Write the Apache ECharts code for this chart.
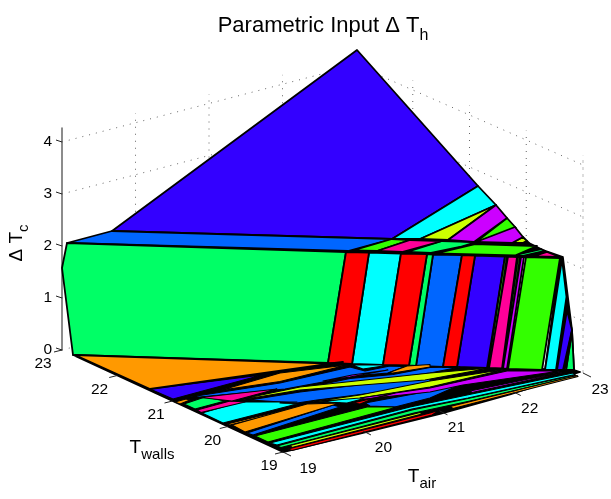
<!DOCTYPE html>
<html>
<head>
<meta charset="utf-8">
<style>html,body{margin:0;padding:0;background:#fff}#c{width:611px;height:499px}</style>
<script src="https://cdn.jsdelivr.net/npm/echarts@6/dist/echarts.min.js"></script>
</head>
<body>
<div id="c"></div>
<script>
// Tick values of the three axes
const zTicks = [0, 1, 2, 3, 4];
const airTicks = [19, 20, 21, 22, 23];
const wallTicks = [19, 20, 21, 22, 23];
const zAxisMax = 4.27;
const gridTop = 4.18;

// Surface facets, in the view-plane units of the hidden axes
const indigoFacets = [
  [[357,50],[478,186],[392,239],[112,231]],
  [[475,255.5],[505,256.5],[487,368],[457,367]],
  [[567,310],[572,330],[563,370],[557,370]],
  [[150,389],[262,375],[173,399]]
];
const cyanFacets = [
  [[478,186],[496,205],[420,239],[392,239]],
  [[369,252.5],[401,253.5],[383,365],[352,364]],
  [[562,259],[566.5,297],[556,370],[545,370]],
  [[352,365],[390,365],[363,369]],
  [[202,413],[223,423],[297,404],[280,403],[297,402],[240,402]],
  [[323,402],[353,397],[370,397],[347,403]],
  [[270,443],[410,407],[467,395],[573,373],[575,374.5],[468,398],[412,409],[277,445]]
];
const yellowFacets = [
  [[496,205],[420,239],[448,240]],
  [[523,237],[527,241],[523,243],[512,243]],
  [[237,400],[300,387],[430,373],[490,368],[425,380],[300,390],[243,399.5]],
  [[312,402],[360,395],[430,381],[507,369],[430,387],[360,398]],
  [[572,331],[566,370],[564,370]],
  [[290,445.5],[420,412.5],[422,414],[292,447.5]]
];
const purpleFacets = [
  [[496,205],[507,218],[474,242],[448,240]],
  [[515,227],[523,237],[512,243],[476,242]],
  [[521,257],[524,257],[507,369],[503,368.5]],
  [[323,381],[352,375],[388,370],[350,377]],
  [[360,398],[430,388],[507,371],[560,371],[463,385],[430,392],[365,399]],
  [[470,391],[560,372.5],[562,373],[472,392.5]]
];
const greenFacets = [
  [[507,218],[516,228],[476,242]],
  [[353,250.5],[392,239],[410,240],[377,251]],
  [[435,253.5],[475,244],[537,246],[515,255.5]],
  [[526,257],[560,258],[542,370],[508,369]],
  [[505,256.5],[507,256.5],[491,368],[488,368]],
  [[518,257],[520,257],[505,368.5],[503,368.5]],
  [[255,436],[367,407],[397,407],[268,442]]
];
const redFacets = [
  [[523,243],[527,241],[529,243]],
  [[346,252],[369,252.5],[352,364],[328,363]],
  [[401,253.5],[427,254],[409,365.5],[383,365]],
  [[462,255],[475,255.5],[457,367],[443,367]],
  [[353,403],[395,393],[370,400],[360,404]],
  [[288,449],[430,413],[440,410],[432,415],[292,450.5]]
];
const blueFacets = [
  [[67,243],[112,231],[392,239],[348,251]],
  [[433,254.5],[462,255],[443,367],[416,366]],
  [[190,397],[280,383],[350,367],[365,371],[390,366],[405,366.5],[388,373],[352,376],[323,382],[285,389],[200,397]],
  [[290,391],[350,378.5],[393,374.5],[430,367.5],[460,367],[430,373],[290,392]],
  [[250,400],[300,392],[430,376.5],[430,385],[380,392],[317,400],[297,403]],
  [[365,403],[430,391],[457,382],[462,384],[430,398],[395,407],[370,406]],
  [[247,433],[253,435],[340,407],[333,405]]
];
const springFacets = [
  [[67,243],[346,252],[328,363],[73,355],[62,268]],
  [[427,254],[433,254.5],[416,366],[409,365.5]],
  [[407,252],[442,241],[476,242],[460,247],[431,253]],
  [[515,255],[541,249],[545,251],[523,256]],
  [[572,331],[574,370],[566,370]],
  [[184,404],[195,409],[225,401],[205,397]],
  [[277,446],[412,410],[468,398.5],[575,375],[576,376],[470,401],[414,413],[281,447.5]]
];
const magentaFacets = [
  [[377,251],[410,240],[442,241],[402,252]],
  [[508,256.5],[517,257],[502,368.5],[489,368]],
  [[533,256.5],[547,252],[560,257]],
  [[197,410],[201,412.5],[245,402],[230,401]],
  [[200,397.5],[277,389],[232,401]]
];
const orangeFacets = [
  [[75,355],[330,363.5],[343,362],[150,389]],
  [[222,390],[280,373],[347,365],[280,381.5]],
  [[388,373],[407,366],[430,364.5],[430,367],[393,373]],
  [[175,402],[186,399],[190,400],[180,404]],
  [[227,424],[297,407],[299,408],[230,425]],
  [[232,425],[245,432],[340,403],[307,404]],
  [[450,406.5],[577,375.5],[578,376.5],[453,408.5]]
];
// Black backing behind the tightly packed ridge, side and floor strips
const backingFacets = [
  [[73,355],[574,370],[580,372],[510,394.5],[440,414],[363,433],[283,452]],
  [[392,239],[448,240],[529,243],[543,250],[563,257],[560,258],[346,252]],
  [[563,258],[572,330],[574,370],[545,370],[560,258]]
];

const layers = [
  ['#000000', backingFacets], ['#3300FF', indigoFacets], ['#0066FF', blueFacets],
  ['#00FF66', springFacets], ['#33FF00', greenFacets], ['#00FFFF', cyanFacets],
  ['#CCFF00', yellowFacets], ['#CC00FF', purpleFacets], ['#FF0000', redFacets],
  ['#FF0099', magentaFacets], ['#FF9900', orangeFacets]
];
const facets = [];
layers.forEach(function (l) { l[1].forEach(function (p) { facets.push({ color: l[0], pts: p }); }); });

function lerp(p, q, t) { return p + (q - p) * t; }
function project(a, w, z) {
  const t = (a - 19) / 4, s = (w - 19) / 4, k = 1.09 - 0.0225 * (w - 19);
  const t2 = t * k / (1 + (k - 1) * t);
  return [
    lerp(lerp(283, 583, t2), lerp(62, 356, t2), s),
    lerp(lerp(452, 373, t2), lerp(350, 273, t2), s) - z * 52
  ];
}

const gridLines = [];
zTicks.forEach(function (z) {
  gridLines.push([project(19, 23, z), project(23, 23, z)]);
  gridLines.push([project(23, 23, z), project(23, 19, z)]);
});
airTicks.forEach(function (a) {
  if (a > 19) gridLines.push([project(a, 23, 0), project(a, 23, gridTop)]);
});
wallTicks.forEach(function (w) {
  if (w > 19 && w < 23) gridLines.push([project(23, w, 0), project(23, w, gridTop)]);
});

const tickItems = [];
airTicks.forEach(function (a) {
  const b = project(a, 19, 0);
  tickItems.push({ from: b, to: [b[0] + 8, b[1] + 4], label: String(a),
    at: [b[0] + Math.max(17, 25 - 4.5 * (a - 19)), b[1] + 17] });
});
wallTicks.forEach(function (w) {
  const b = project(19, w, 0);
  tickItems.push({ from: b, to: [b[0] - 8, b[1] + 2], label: String(w),
    at: [b[0] - 14 - (w - 19) * 1.25, b[1] + 14] });
});
zTicks.forEach(function (z) {
  const b = project(19, 23, z);
  tickItems.push({ from: b, to: [b[0] - 6, b[1] - 2] });
});

const FONT = '"Liberation Sans", Arial, sans-serif';
function rich(main, sub, size, subSize, drop) {
  return {
    text: '{m|' + main + '}{s|' + sub + '}',
    fontFamily: FONT,
    rich: {
      m: { fontSize: size, fontFamily: FONT, fill: '#000', color: '#000' },
      s: { fontSize: subSize, fontFamily: FONT, fill: '#000', color: '#000', padding: [drop, 0, 0, 0] }
    }
  };
}

const option = {
  animation: false,
  backgroundColor: '#fff',
  grid: [
    { left: 0, right: 0, top: 0, bottom: 0 },
    { left: 62, width: 1, top: 128, height: 222 }
  ],
  xAxis: [
    { type: 'value', min: 0, max: 611, show: false, gridIndex: 0 },
    { type: 'value', min: 0, max: 1, show: false, gridIndex: 1 }
  ],
  yAxis: [
    { type: 'value', min: 0, max: 499, inverse: true, show: false, gridIndex: 0 },
    {
      type: 'value', gridIndex: 1, min: 0, max: zAxisMax, interval: 1,
      axisLine: { show: true, lineStyle: { color: '#666', width: 1.5 } },
      axisTick: { show: false }, splitLine: { show: false },
      axisLabel: { fontFamily: FONT, fontSize: 15.5, color: '#000', margin: 10, verticalAlign: 'middle', lineHeight: 20, padding: [0, 0, 4, 0],
        formatter: function (v) { return zTicks.indexOf(v) >= 0 ? String(v) : ''; } }
    }
  ],
  series: [
    {
      type: 'custom', coordinateSystem: 'cartesian2d', xAxisIndex: 0, yAxisIndex: 0, clip: false, silent: true, z: 1,
      data: gridLines.map(function (_, i) { return [i]; }),
      renderItem: function (params, api) {
        const l = gridLines[api.value(0)], p = api.coord(l[0]), q = api.coord(l[1]);
        return { type: 'line', shape: { x1: p[0], y1: p[1], x2: q[0], y2: q[1] },
          style: { stroke: '#666', lineWidth: 1, lineDash: [1, 6] } };
      }
    },
    {
      type: 'custom', coordinateSystem: 'cartesian2d', xAxisIndex: 0, yAxisIndex: 0, clip: false, silent: true, z: 1,
      data: [[0]],
      renderItem: function (params, api) {
        const p = api.coord(project(23, 19, 0)), q = api.coord(project(23, 19, gridTop));
        return { type: 'line', shape: { x1: p[0], y1: p[1], x2: q[0], y2: q[1] },
          style: { stroke: '#bbb', lineWidth: 1, lineDash: [3, 4] } };
      }
    },
    {
      type: 'custom', coordinateSystem: 'cartesian2d', xAxisIndex: 0, yAxisIndex: 0, clip: false, silent: true, z: 3,
      data: facets.map(function (_, i) { return [i]; }),
      renderItem: function (params, api) {
        const f = facets[api.value(0)];
        const onFloor = f.pts.every(function (p) { return p[1] >= 362; });
        return { type: 'polygon', shape: { points: f.pts.map(function (p) { return api.coord(p); }) },
          style: { fill: f.color, stroke: '#000', lineWidth: onFloor ? 1.1 : 1.8, lineJoin: 'round' } };
      }
    },
    {
      type: 'custom', coordinateSystem: 'cartesian2d', xAxisIndex: 0, yAxisIndex: 0, clip: false, silent: true, z: 4,
      data: tickItems.map(function (_, i) { return [i]; }),
      renderItem: function (params, api) {
        const t = tickItems[api.value(0)], p = api.coord(t.from), q = api.coord(t.to);
        const children = [{ type: 'line', shape: { x1: p[0], y1: p[1], x2: q[0], y2: q[1] }, style: { stroke: '#222', lineWidth: 1 } }];
        if (t.label) {
          const c = api.coord(t.at);
          children.push({ type: 'text', x: c[0], y: c[1], style: { text: t.label, fontFamily: FONT, fontSize: 15.5, fill: '#000', align: 'center', verticalAlign: 'middle' } });
        }
        return { type: 'group', children: children };
      }
    },
    {
      type: 'custom', coordinateSystem: 'cartesian2d', xAxisIndex: 0, yAxisIndex: 0, clip: false, silent: true, z: 5,
      data: [[0]],
      renderItem: function (params, api) {
        const mk = function (x, y, rot, s) {
          const c = api.coord([x, y]);
          return { type: 'text', x: c[0], y: c[1], rotation: rot, style: Object.assign({ align: 'center', verticalAlign: 'middle' }, s) };
        };
        return { type: 'group', children: [
          mk(323, 26, 0, rich('Parametric Input \u0394 T', 'h', 22, 16, 20)),
          mk(17, 243, Math.PI / 2, rich('\u0394 T', 'c', 19, 15, 14)),
          mk(152, 448, 0, rich('T', 'walls', 19, 15, 14)),
          mk(422, 477, 0, rich('T', 'air', 19, 15, 14))
        ] };
      }
    }
  ]
};
echarts.init(document.getElementById('c'), null, { renderer: 'canvas' }).setOption(option);
</script>
</body>
</html>
